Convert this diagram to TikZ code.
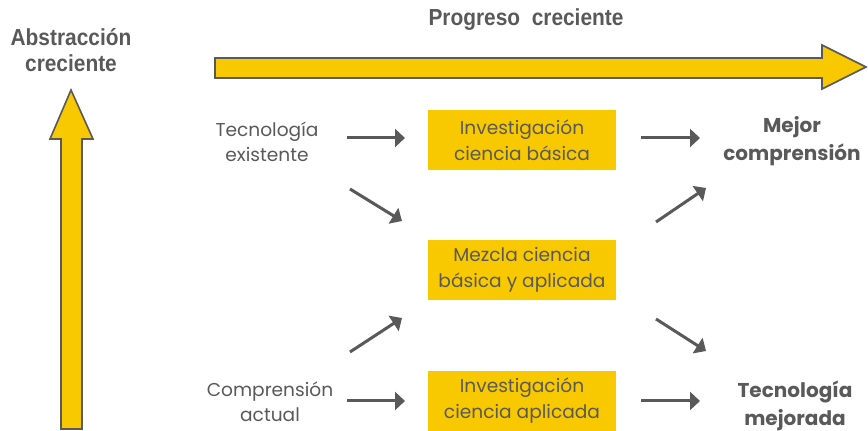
\documentclass[tikz,border=0pt]{standalone}
\usepackage{fontspec}
\setmainfont{Poppins}
\newfontfamily\narrowfont[FakeStretch=0.9]{Liberation Sans Bold}
\usetikzlibrary{arrows.meta}
\definecolor{amarillo}{HTML}{F9C900}
\definecolor{gris}{HTML}{595959}
\tikzset{
    caja/.style = {fill=amarillo, minimum width=94pt, minimum height=30pt, align=center,
        text=gris, font=\fontsize{9.3}{13}\selectfont, inner sep=0pt},
    etiqueta/.style = {align=center, text=gris, font=\fontsize{9.3}{12.5}\selectfont},
    resultado/.style = {align=center, text=gris, font=\fontsize{10}{14}\selectfont\bfseries},
    titulo/.style = {align=center, text=gris, font=\narrowfont\fontsize{11.6}{13}\selectfont},
    flecha/.style = {draw=gris, line width=1.5pt, -{Triangle[length=5pt, width=9pt]}},
    flechagorda/.style = {fill=amarillo, draw=gris, line width=0.8pt, line join=miter}
}
\begin{document}
\begin{tikzpicture}[x=0.5pt, y=-0.5pt]
    \useasboundingbox (0,0) rectangle (868,431);
    % flechas grandes
    \draw[flechagorda] (215,58) -- (822,58) -- (822,45) -- (866,67) -- (822,89)
        -- (822,78) -- (215,78) -- cycle;
    \draw[flechagorda] (61,429) -- (61,139) -- (50,139) -- (71,90) -- (93,139)
        -- (82,139) -- (82,429) -- cycle;
    \node[titulo] (abstr) at (71,50) {Abstracción\\creciente};
    \node[titulo] (progr) at (526,20) {Progreso\ \ creciente};
    % columnas
    \node[etiqueta] (tecex) at (267,142) {Tecnología\\existente};
    \node[etiqueta] (compa) at (270,402) {Comprensión\\actual};
    \node[caja] (basica) at (522,140) {Investigación\\ciencia básica};
    \node[caja] (mezcla) at (522,270) {Mezcla ciencia\\básica y aplicada};
    \node[caja] (aplic) at (522,401) {Investigación\\ciencia aplicada};
    \node[resultado] (mejor) at (792,141) {Mejor\\comprensión};
    \node[resultado] (tecmej) at (795,406) {Tecnología\\mejorada};
    % extremos de las flechas oblicuas
    \coordinate (d1a) at (350,189);
    \coordinate (d1b) at (402,221);
    \coordinate (d2a) at (350,352);
    \coordinate (d2b) at (402,318);
    \coordinate (d3a) at (656,222);
    \coordinate (d3b) at (706,188);
    \coordinate (d4a) at (656,319);
    \coordinate (d4b) at (706,351);
    % conectores
    \draw[flecha] (347,138) -- (405,138);
    \draw[flecha] (347,401) -- (405,401);
    \draw[flecha] (641,138) -- (700,138);
    \draw[flecha] (641,401) -- (700,401);
    \draw[flecha] (d1a) -- (d1b);
    \draw[flecha] (d2a) -- (d2b);
    \draw[flecha] (d3a) -- (d3b);
    \draw[flecha] (d4a) -- (d4b);
\end{tikzpicture}
\end{document}
